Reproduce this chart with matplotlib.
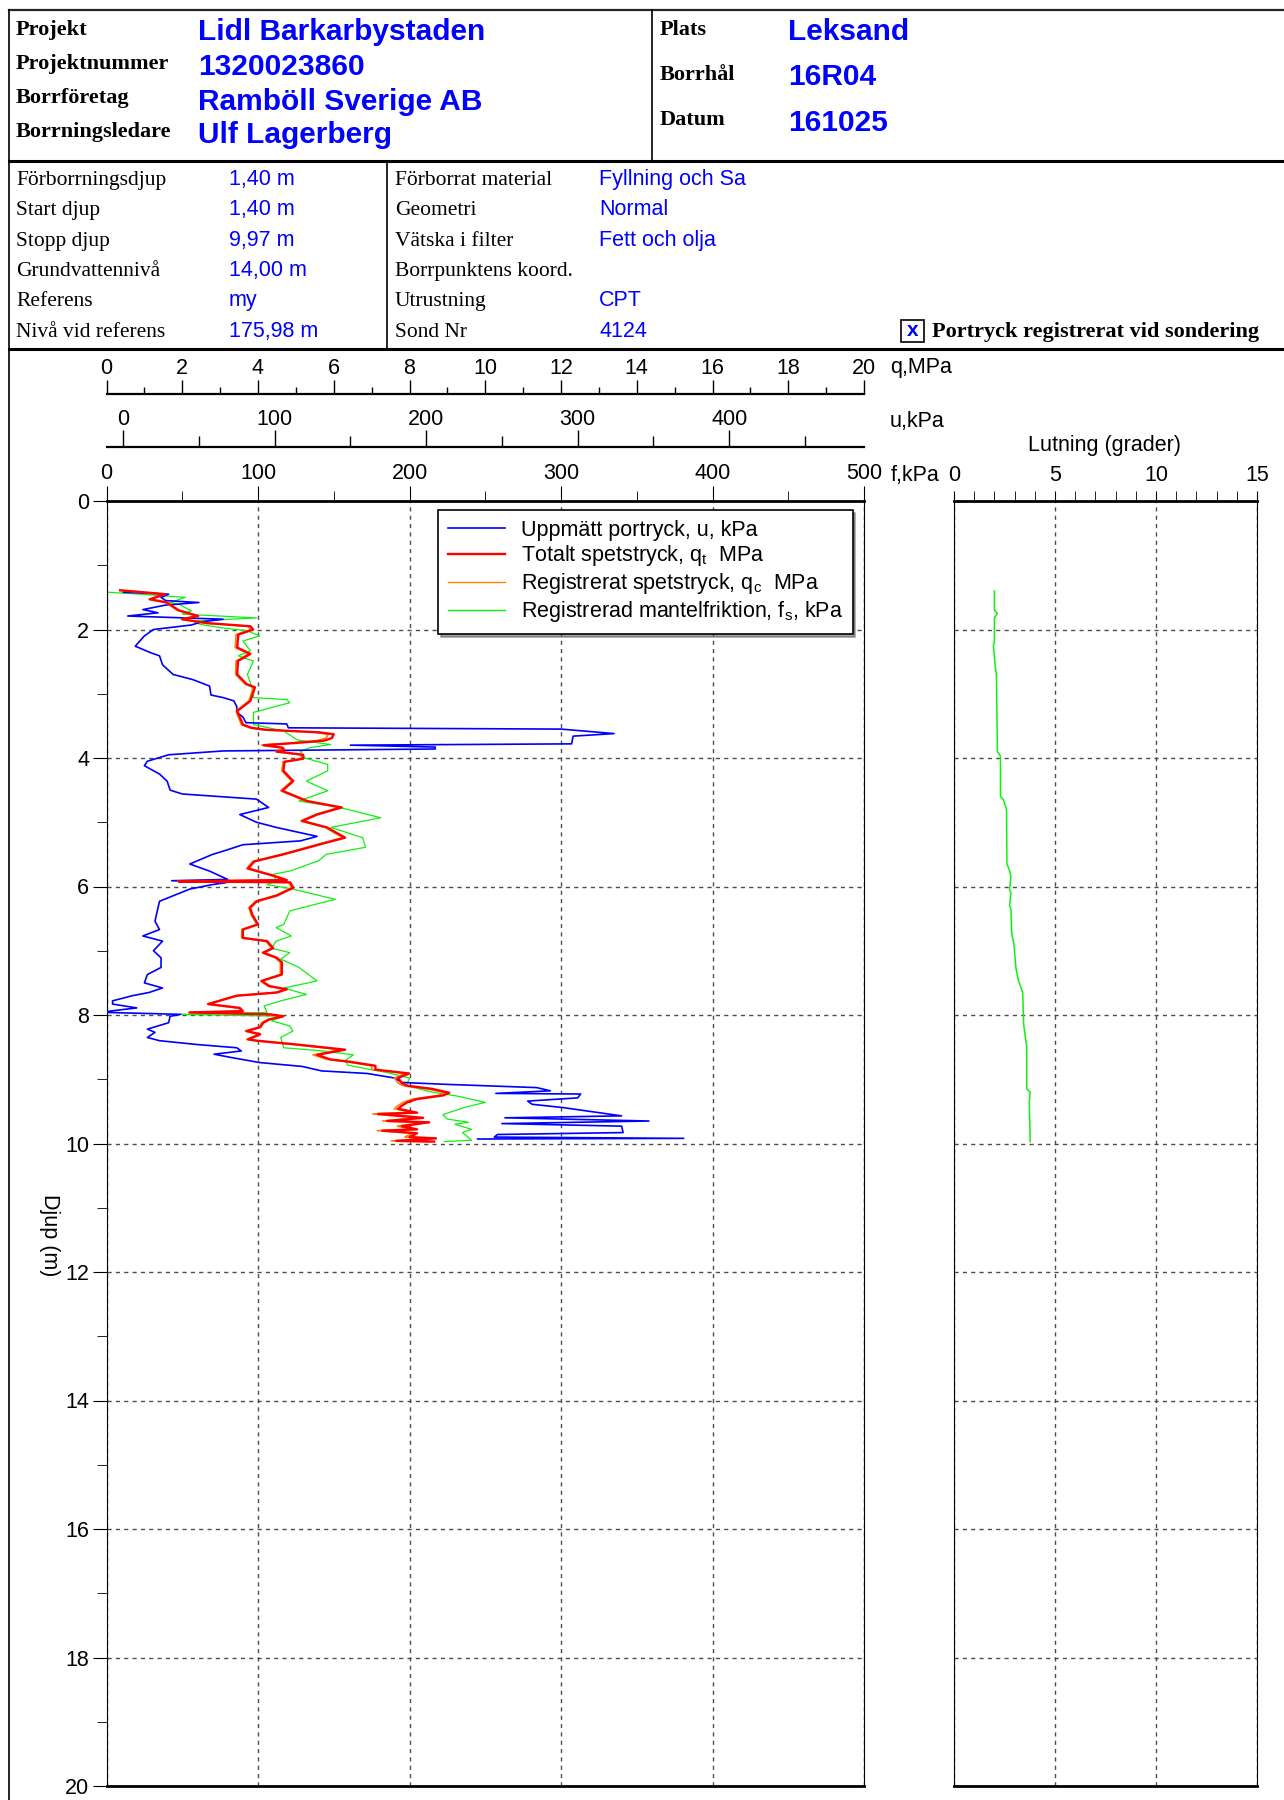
import matplotlib
matplotlib.use('Agg')
import matplotlib.pyplot as plt
from matplotlib.lines import Line2D
from matplotlib.patches import Rectangle
from matplotlib.ticker import MultipleLocator, FixedLocator

plt.rcParams['font.family'] = ['Liberation Sans', 'DejaVu Sans']
plt.rcParams['mathtext.fontset'] = 'custom'
plt.rcParams['mathtext.rm'] = 'Liberation Sans'
plt.rcParams['mathtext.it'] = 'Liberation Sans:italic'

# --- header info ---
proj_labels = ['Projekt', 'Projektnummer', 'Borrföretag', 'Borrningsledare']
proj_values = ['Lidl Barkarbystaden', '1320023860', 'Ramböll Sverige AB', 'Ulf Lagerberg']
site_labels = ['Plats', 'Borrhål', 'Datum']
site_values = ['Leksand', '16R04', '161025']
drill_labels = ['Förborrningsdjup', 'Start djup', 'Stopp djup', 'Grundvattennivå',
                'Referens', 'Nivå vid referens']
drill_values = ['1,40 m', '1,40 m', '9,97 m', '14,00 m', 'my', '175,98 m']
setup_labels = ['Förborrat material', 'Geometri', 'Vätska i filter', 'Borrpunktens koord.',
                'Utrustning', 'Sond Nr']
setup_values = ['Fyllning och Sa', 'Normal', 'Fett och olja', '', 'CPT', '4124']

# --- sounding data ---
u_depth = [1.40, 1.42, 1.45, 1.50, 1.55, 1.58, 1.62, 1.69, 1.74, 1.79, 1.84, 1.88, 1.93, 2.00,
           2.10, 2.26, 2.36, 2.41, 2.55, 2.70, 2.78, 2.88, 3.02, 3.06, 3.11, 3.20, 3.29, 3.36,
           3.45, 3.47, 3.53, 3.55, 3.62, 3.66, 3.78, 3.80, 3.83, 3.86, 3.89, 3.95, 4.05, 4.12,
           4.25, 4.36, 4.50, 4.56, 4.64, 4.77, 4.88, 5.00, 5.08, 5.22, 5.29, 5.35, 5.45, 5.50,
           5.58, 5.65, 5.76, 5.89, 5.91, 5.94, 5.97, 6.04, 6.23, 6.33, 6.54, 6.67, 6.77, 6.85,
           7.00, 7.11, 7.26, 7.37, 7.50, 7.58, 7.65, 7.70, 7.78, 7.83, 7.89, 7.94, 7.96, 7.99,
           8.02, 8.12, 8.22, 8.27, 8.35, 8.40, 8.46, 8.51, 8.56, 8.61, 8.66, 8.74, 8.80, 8.87,
           8.91, 8.98, 9.05, 9.08, 9.13, 9.18, 9.22, 9.23, 9.29, 9.34, 9.39, 9.44, 9.49, 9.52,
           9.57, 9.60, 9.65, 9.69, 9.73, 9.83, 9.86, 9.90, 9.92, 9.93]
u_kpa = [5, 0, 30, 25, 28, 50, 28, 13, 23, 3, 66, 52, 45, 20,
         14, 8, 18, 24, 26, 33, 46, 57, 58, 66, 73, 75, 75, 79,
         81, 108, 109, 289, 324, 297, 296, 150, 206, 206, 66, 30, 16, 14,
         24, 29, 31, 39, 88, 96, 77, 88, 101, 128, 117, 79, 66, 59,
         51, 44, 57, 69, 32, 68, 59, 44, 24, 23, 21, 24, 13, 26,
         20, 25, 25, 16, 14, 26, 17, 6, -7, -7, 9, -9, -11, 38,
         31, 30, 16, 21, 16, 24, 49, 75, 78, 60, 71, 90, 118, 131,
         161, 179, 184, 214, 273, 282, 246, 302, 300, 267, 270, 290, 305, 314,
         329, 252, 347, 250, 329, 330, 247, 245, 370, 234]

q_depth = [1.39, 1.45, 1.53, 1.58, 1.70, 1.79, 1.84, 1.90, 1.95, 2.00, 2.08, 2.28, 2.38, 2.49,
           2.70, 2.85, 2.90, 3.11, 3.27, 3.42, 3.48, 3.53, 3.56, 3.60, 3.63, 3.69, 3.73, 3.77,
           3.80, 3.84, 3.88, 3.90, 3.95, 4.01, 4.06, 4.20, 4.36, 4.51, 4.67, 4.77, 4.88, 4.98,
           5.08, 5.24, 5.33, 5.50, 5.61, 5.72, 5.83, 5.90, 5.92, 5.935, 6.02, 6.14, 6.23, 6.33,
           6.44, 6.59, 6.67, 6.80, 6.85, 6.96, 7.03, 7.11, 7.18, 7.37, 7.47, 7.55, 7.60, 7.65,
           7.70, 7.83, 7.89, 7.94, 7.96, 7.99, 8.02, 8.07, 8.12, 8.19, 8.25, 8.30, 8.38, 8.40,
           8.46, 8.54, 8.62, 8.69, 8.73, 8.79, 8.85, 8.91, 8.98, 9.06, 9.10, 9.15, 9.21, 9.25,
           9.31, 9.36, 9.41, 9.46, 9.52, 9.54, 9.60, 9.65, 9.67, 9.73, 9.78, 9.80, 9.84, 9.90,
           9.92, 9.96, 9.97]
qt_mpa = [0.36, 1.55, 1.15, 1.60, 1.90, 2.42, 2.00, 2.65, 3.80, 3.87, 3.48, 3.45, 3.80, 3.47,
          3.45, 3.70, 3.92, 3.80, 3.45, 3.56, 3.60, 3.83, 4.20, 5.60, 6.00, 5.95, 5.75, 4.90,
          4.15, 4.65, 4.70, 4.50, 5.19, 5.20, 4.70, 4.67, 4.93, 4.64, 5.30, 6.21, 5.56, 5.17,
          5.82, 6.30, 5.72, 4.67, 3.90, 3.74, 4.40, 4.76, 1.90, 4.85, 4.93, 4.50, 3.97, 3.79,
          3.85, 4.00, 3.60, 3.60, 4.24, 4.40, 4.14, 4.50, 4.63, 4.63, 4.10, 4.30, 4.76, 4.50,
          3.44, 2.69, 3.52, 3.60, 2.20, 4.32, 4.67, 4.30, 4.14, 4.06, 3.70, 4.06, 3.74, 3.97,
          5.03, 6.30, 5.56, 5.90, 6.45, 7.10, 7.10, 7.99, 7.70, 7.80, 7.93, 8.60, 9.05, 8.90,
          8.18, 7.94, 7.80, 7.70, 8.20, 7.17, 8.36, 7.41, 8.52, 7.80, 8.20, 7.28, 8.20, 8.00,
          8.70, 7.65, 8.65]
qc_mpa = [0.36, 1.52, 1.12, 1.57, 1.86, 2.38, 1.97, 2.60, 3.74, 3.82, 3.42, 3.40, 3.75, 3.42,
          3.41, 3.66, 3.88, 3.76, 3.42, 3.52, 3.56, 3.78, 4.15, 5.50, 5.85, 5.80, 5.55, 4.82,
          4.10, 4.60, 4.64, 4.45, 5.13, 5.15, 4.66, 4.63, 4.89, 4.60, 5.25, 6.15, 5.51, 5.13,
          5.77, 6.24, 5.67, 4.63, 3.86, 3.70, 4.36, 4.72, 1.88, 4.80, 4.89, 4.46, 3.93, 3.76,
          3.82, 3.97, 3.57, 3.57, 4.20, 4.36, 4.11, 4.46, 4.59, 4.59, 4.07, 4.26, 4.72, 4.46,
          3.41, 2.66, 3.48, 3.56, 2.17, 4.28, 4.62, 4.25, 4.10, 4.02, 3.66, 4.02, 3.70, 3.93,
          4.96, 6.20, 5.45, 5.82, 6.36, 7.00, 7.00, 7.88, 7.60, 7.70, 7.83, 8.48, 8.93, 8.78,
          8.07, 7.83, 7.70, 7.60, 8.08, 7.03, 8.22, 7.29, 8.38, 7.68, 8.08, 7.15, 8.07, 7.88,
          8.56, 7.52, 8.52]

fs_depth = [1.42, 1.45, 1.50, 1.58, 1.61, 1.71, 1.76, 1.82, 1.87, 1.92, 1.97, 2.02, 2.10, 2.18,
            2.33, 2.41, 2.49, 2.70, 2.90, 3.06, 3.09, 3.14, 3.22, 3.29, 3.48, 3.58, 3.72, 3.79,
            3.84, 3.90, 4.00, 4.10, 4.20, 4.36, 4.51, 4.67, 4.77, 4.93, 5.08, 5.24, 5.39, 5.50,
            5.60, 5.65, 5.76, 5.81, 5.91, 5.97, 6.04, 6.20, 6.30, 6.38, 6.59, 6.64, 6.77, 6.85,
            6.96, 7.03, 7.13, 7.26, 7.47, 7.58, 7.68, 7.78, 7.86, 7.96, 7.99, 8.02, 8.09, 8.17,
            8.25, 8.35, 8.51, 8.56, 8.62, 8.70, 8.78, 8.89, 8.98, 9.10, 9.20, 9.26, 9.36, 9.44,
            9.48, 9.55, 9.62, 9.67, 9.70, 9.78, 9.83, 9.95, 9.97]
fs_kpa = [1, 22, 52, 42, 48, 56, 50, 99, 57, 62, 75, 93, 101, 90,
          95, 87, 97, 93, 96, 97, 119, 121, 108, 97, 97, 117, 126, 148,
          134, 128, 131, 146, 146, 132, 146, 127, 154, 181, 148, 169, 171, 145,
          140, 134, 121, 110, 112, 106, 123, 151, 134, 121, 117, 112, 122, 112,
          109, 121, 115, 127, 139, 117, 132, 115, 104, 106, 48, 117, 109, 121,
          123, 115, 117, 143, 163, 158, 159, 184, 200, 198, 215, 231, 250, 236,
          231, 222, 225, 239, 230, 241, 235, 241, 223]

tilt_depth = [1.40, 1.70, 1.75, 1.82, 2.20, 2.25, 2.60, 2.70, 3.90, 3.97, 4.60, 4.65, 4.80,
              5.65, 5.75, 5.85, 6.05, 6.10, 6.30, 6.35, 6.74, 6.90, 7.28, 7.45, 7.65, 8.15,
              8.50, 9.15, 9.20, 9.35, 9.97]
tilt_deg = [2.00, 2.00, 2.15, 2.00, 2.00, 1.95, 2.05, 2.10, 2.15, 2.30, 2.30, 2.45, 2.60,
            2.62, 2.75, 2.82, 2.75, 2.82, 2.75, 2.82, 2.86, 2.97, 3.07, 3.18, 3.40, 3.45,
            3.60, 3.60, 3.77, 3.73, 3.77]

W, H = 1284, 1800
BLUE = '#0000ff'
SERIF = 'Liberation Serif'
fs = 15.5

fig = plt.figure(figsize=(W / 100, H / 100), dpi=100)


def box(x0, y0, x1, y1):
    # pixel box (from top-left) -> figure rect
    return [x0 / W, 1 - y1 / H, (x1 - x0) / W, (y1 - y0) / H]


# header frame and texts, drawn in pixel units
head = fig.add_axes([0, 0, 1, 1])
head.set_xlim(0, W)
head.set_ylim(H, 0)
head.axis('off')
head.plot([9, W], [10, 10], color='0.15', lw=1.6)
head.plot([9, W], [161, 161], color='k', lw=2.2)
head.plot([9, W], [349, 349], color='k', lw=2.2)
head.plot([9, 9], [10, H], color='k', lw=1.2)
head.plot([652, 652], [10, 161], color='k', lw=1.2)
head.plot([387, 387], [161, 349], color='k', lw=1.2)

for lab, y in zip(proj_labels, [35, 68.5, 103, 137]):
    head.text(16, y, lab, family=SERIF, weight='bold', fontsize=16, va='baseline')
for val, y in zip(proj_values, [40, 75, 110, 143]):
    head.text(198, y, val, weight='bold', fontsize=21.5, color=BLUE, va='baseline')
for lab, y in zip(site_labels, [35, 80, 125]):
    head.text(660, y, lab, family=SERIF, weight='bold', fontsize=16, va='baseline')
for val, y in zip(site_values, [40, 85, 131]):
    head.text(788, y, val, weight='bold', fontsize=21.5, color=BLUE, va='baseline')

row_y = [185, 215.3, 245.6, 276, 306.3, 336.6]
for lab, val, y in zip(drill_labels, drill_values, row_y):
    head.text(16, y, lab, family=SERIF, fontsize=fs, va='baseline')
    head.text(229, y, val, fontsize=fs, color=BLUE, va='baseline')
for lab, val, y in zip(setup_labels, setup_values, row_y):
    head.text(395, y, lab, family=SERIF, fontsize=fs, va='baseline')
    head.text(599, y, val, fontsize=fs, color=BLUE, va='baseline')

head.add_patch(Rectangle((901, 320), 23, 22, fill=False, ec='k', lw=1.2))
head.text(912.5, 331, 'x', color=BLUE, weight='bold', fontsize=15, ha='center', va='center')
head.text(932, 337, 'Portryck registrerat vid sondering', family=SERIF, weight='bold',
          fontsize=16, va='baseline')

head.text(890, 368, 'q,MPa', fontsize=fs, va='center')
head.text(890, 421, 'u,kPa', fontsize=fs, va='center')
head.text(891, 476, 'f,kPa', fontsize=fs, va='center')
head.text(1105, 446, 'Lutning (grader)', fontsize=fs, ha='center', va='center')


def scale_axis(y, lo, hi, major, minor, maj_len, min_len, pad):
    sax = fig.add_axes(box(106.5, y - 1, 864, y))
    sax.set_xlim(lo, hi)
    sax.patch.set_visible(False)
    for side in ['left', 'right', 'bottom']:
        sax.spines[side].set_visible(False)
    sax.spines['top'].set_linewidth(1.6)
    sax.set_yticks([])
    sax.xaxis.tick_top()
    sax.xaxis.set_major_locator(FixedLocator(major))
    sax.xaxis.set_minor_locator(FixedLocator(minor))
    sax.tick_params(axis='x', which='major', direction='out', length=maj_len, width=1,
                    pad=pad, labelsize=fs)
    sax.tick_params(axis='x', which='minor', direction='out', length=min_len, width=1)
    return sax


scale_axis(395, 0, 20, range(0, 21, 2), range(1, 20, 2), 10, 5, 1)
scale_axis(448, -11, 489, range(0, 401, 100), range(50, 451, 100), 12, 8, 0)

# main sounding axes, friction scale on top
ax = fig.add_axes(box(106.5, 501, 864, 1786))
ax.set_xlim(0, 500)
ax.set_ylim(20, 0)

ax.plot(fs_kpa, fs_depth, color='#10f010', lw=0.9)

ax_u = ax.twiny()
ax_u.set_xlim(-11, 489)
ax_u.axis('off')
ax_u.plot(u_kpa, u_depth, color=BLUE, lw=1.2)

ax_q = ax.twiny()
ax_q.set_xlim(0, 20)
ax_q.axis('off')
ax_q.plot(qc_mpa, q_depth, color='#ff8000', lw=1.2)
ax_q.plot(qt_mpa, q_depth, color='#ff0000', lw=1.7)

# twiny moves the host ticks to the bottom, so set them up afterwards
ax.xaxis.tick_top()
ax.xaxis.set_major_locator(MultipleLocator(100))
ax.xaxis.set_minor_locator(MultipleLocator(50))
ax.yaxis.set_major_locator(MultipleLocator(2))
ax.yaxis.set_minor_locator(MultipleLocator(1))
ax.tick_params(axis='x', which='both', bottom=False, labelbottom=False)
ax.tick_params(axis='x', which='major', direction='out', length=11, pad=1, labelsize=fs)
ax.tick_params(axis='x', which='minor', direction='out', length=7)
ax.tick_params(axis='y', which='major', direction='out', length=10, pad=2.5, labelsize=fs)
ax.tick_params(axis='y', which='minor', direction='out', length=7)
ax.set_axisbelow(True)
ax.grid(True, which='major', color='0.3', ls=(0, (3, 3)), lw=1)
ax.spines['top'].set_linewidth(2)
ax.spines['bottom'].set_linewidth(2)
ax.text(-0.075, 0.429, 'Djup (m)', transform=ax.transAxes, rotation=270,
        ha='center', va='center', fontsize=fs)

handles = [Line2D([], [], color=BLUE, lw=1.2),
           Line2D([], [], color='#ff0000', lw=1.7),
           Line2D([], [], color='#ff8000', lw=1.0),
           Line2D([], [], color='#10f010', lw=1.0)]
labels = ['Uppmätt portryck, u, kPa',
          r'Totalt spetstryck, q$_\mathregular{t}$  MPa',
          r'Registrerat spetstryck, q$_\mathregular{c}$  MPa',
          r'Registrerad mantelfriktion, f$_\mathregular{s}$, kPa']
leg = ax_q.legend(handles, labels, loc='upper right', bbox_to_anchor=(0.985, 0.993),
                  borderaxespad=0, fontsize=fs, fancybox=False, shadow=True, framealpha=1,
                  edgecolor='k', handlelength=2.65, handletextpad=0.75, labelspacing=0.13,
                  borderpad=0.45)
leg.get_frame().set_linewidth(1.2)

# inclination axes
lax = fig.add_axes(box(954, 501, 1257, 1786))
lax.set_xlim(0, 15)
lax.set_ylim(20, 0)
lax.xaxis.tick_top()
lax.xaxis.set_major_locator(MultipleLocator(5))
lax.xaxis.set_minor_locator(MultipleLocator(1))
lax.yaxis.set_major_locator(MultipleLocator(2))
lax.tick_params(axis='x', which='both', direction='out', length=7, pad=4, labelsize=fs)
lax.tick_params(axis='y', which='both', left=False, labelleft=False)
lax.set_axisbelow(True)
lax.grid(True, which='major', color='0.3', ls=(0, (3, 3)), lw=1)
lax.spines['top'].set_linewidth(2)
lax.spines['bottom'].set_linewidth(2)
lax.plot(tilt_deg, tilt_depth, color='#10f010', lw=1.1)

fig.savefig('out.png', dpi=100)
